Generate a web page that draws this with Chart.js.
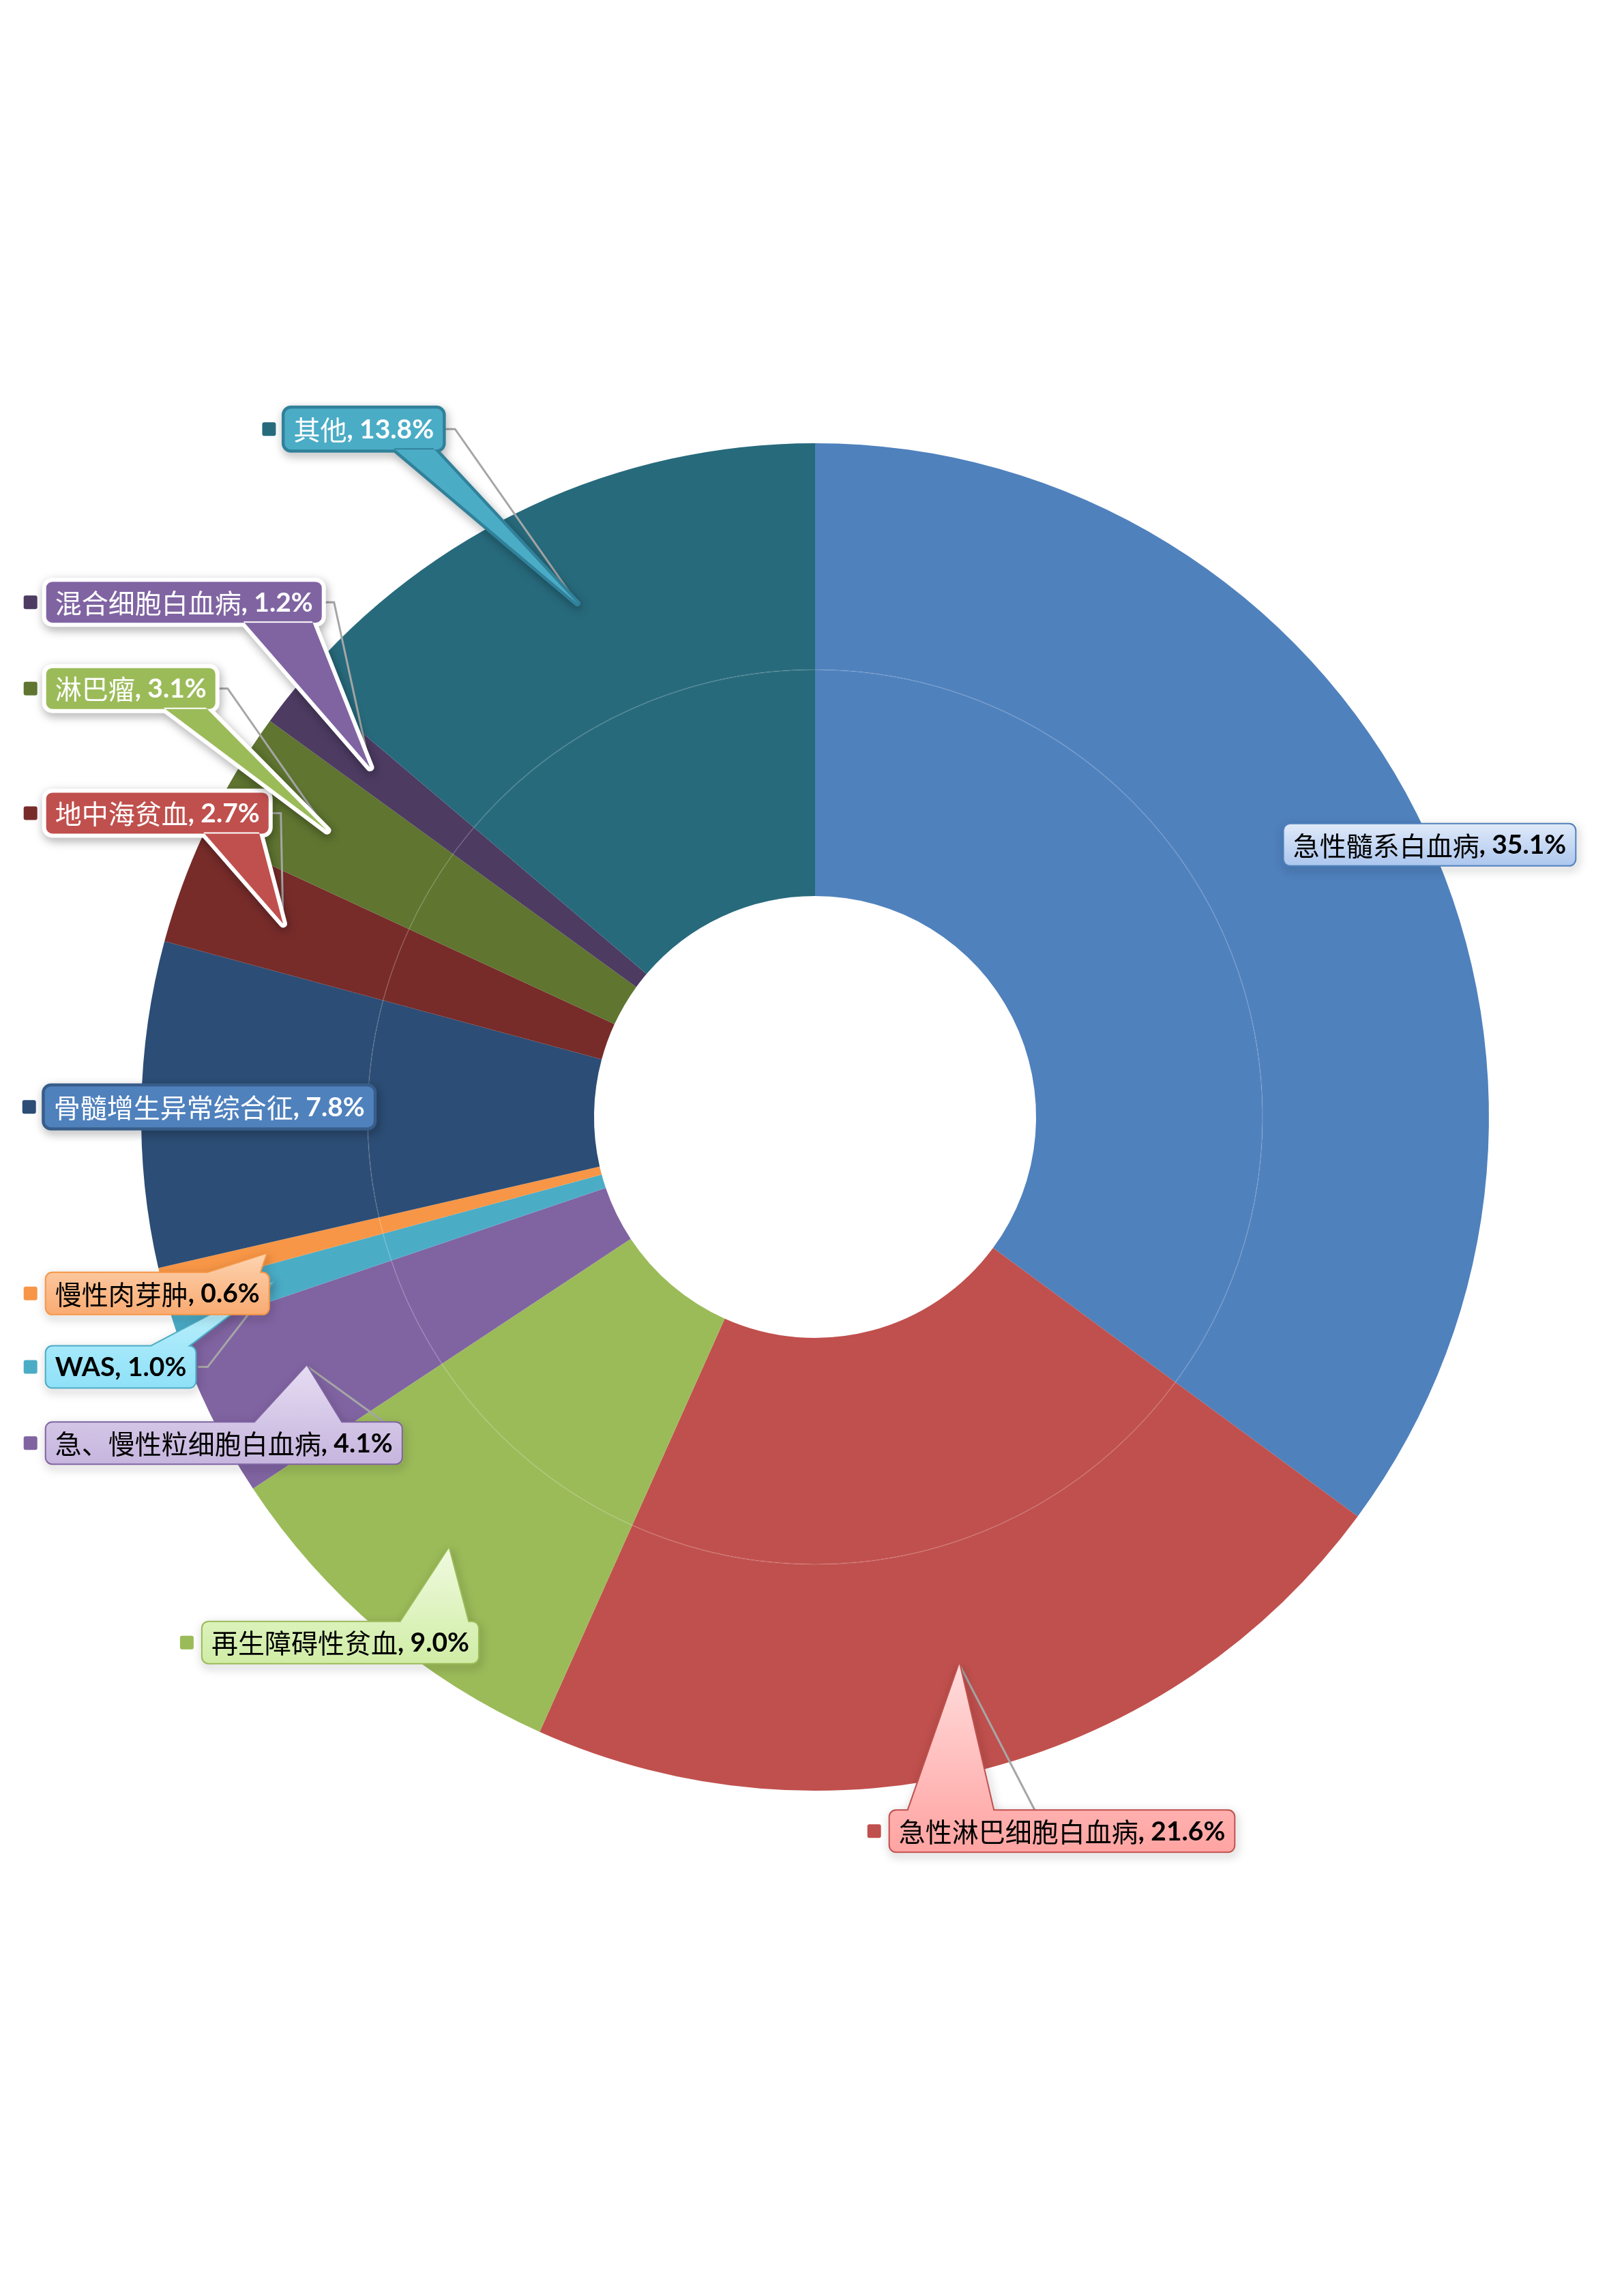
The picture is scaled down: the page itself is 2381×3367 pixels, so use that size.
<!DOCTYPE html>
<html>
<head>
<meta charset="utf-8">
<script src="https://cdn.jsdelivr.net/npm/chart.js@4.4.1/dist/chart.umd.min.js"></script>
<style>
  html, body { margin: 0; padding: 0; background: #ffffff; }
  canvas { display: block; }
</style>
</head>
<body>
<canvas id="donut" width="2381" height="3367"></canvas>
<script>
// ===== Data =====
const categories = [
  '急性髓系白血病',
  '急性淋巴细胞白血病',
  '再生障碍性贫血',
  '急、慢性粒细胞白血病',
  'WAS',
  '慢性肉芽肿',
  '骨髓增生异常综合征',
  '地中海贫血',
  '淋巴瘤',
  '混合细胞白血病',
  '其他',
];
const percents = [35.1, 21.6, 9.0, 4.1, 1.0, 0.6, 7.8, 2.7, 3.1, 1.2, 13.8];

// ===== Styles =====
const SLICE_COLORS = [
  '#4f81bd', '#c0504d', '#9bbb59', '#8064a2', '#4bacc6', '#f79646',
  '#2c4d75', '#772c2a', '#5f7530', '#4d3b62', '#276a7c',
];

// label callout looks: [fill top, fill bottom, border, border width, text colour]
const LABEL_STYLES = [
  ['#dfe9f9', '#adc7ee', '#4f81bd', 4, '#000000'],
  ['#ffdcdc', '#ffa4a2', '#c0504d', 4, '#000000'],
  ['#f0fadf', '#d0eda6', '#9bbb59', 4, '#000000'],
  ['#e6dcf2', '#c6b5de', '#8064a2', 4, '#000000'],
  ['#c8f3fd', '#8fe1f8', '#4bacc6', 4, '#000000'],
  ['#fdd3b0', '#f9ab72', '#f79646', 4, '#000000'],
  ['#4f81bd', '#4f81bd', '#385d8a', 9, '#ffffff'],
  ['#c0504d', '#c0504d', '#ffffff', 12, '#ffffff'],
  ['#9bbb59', '#9bbb59', '#ffffff', 12, '#ffffff'],
  ['#8064a2', '#8064a2', '#ffffff', 12, '#ffffff'],
  ['#4bacc6', '#4bacc6', '#31819a', 9, '#ffffff'],
];

// label box placement, relative to the doughnut centre in units of its outer radius:
// [left edge, vertical centre]
const LABEL_PLACES = [
  [0.696, -0.404],
  [0.111, 1.060],
  [-0.909, 0.780],
  [-1.141, 0.484],
  [-1.141, 0.371],
  [-1.141, 0.262],
  [-1.143, -0.015],
  [-1.141, -0.451],
  [-1.141, -0.636],
  [-1.141, -0.764],
  [-0.787, -1.021],
];

const FONT_SIZE = 39;
const BOX_H = 60;
const PAD_X = 13;
const TIP_RATIO = 0.84;
const LEADER_COLOR = '#a6a6a6';

function valueText(v) {
  return ', ' + v.toFixed(1) + '%';
}

// faint seam between the two rings
const seamPlugin = {
  id: 'ringSeam',
  afterDatasetsDraw(chart) {
    const inner = chart.getDatasetMeta(1).data[0];
    if (!inner) return;
    const ctx = chart.ctx;
    ctx.save();
    ctx.strokeStyle = 'rgba(255,255,255,0.10)';
    ctx.lineWidth = 2;
    ctx.beginPath();
    ctx.arc(inner.x, inner.y, inner.outerRadius, 0, Math.PI * 2);
    ctx.stroke();
    ctx.restore();
  },
};

// callout labels with pointers and leader lines
const calloutPlugin = {
  id: 'callouts',
  afterDraw(chart) {
    const ctx = chart.ctx;
    const arcs = chart.getDatasetMeta(0).data;
    const R = arcs[0].outerRadius;
    const cx = arcs[0].x;
    const cy = arcs[0].y;

    const boxes = arcs.map((arc, i) => {
      const mid = (arc.startAngle + arc.endAngle) / 2;
      const tip = {
        x: cx + Math.cos(mid) * R * TIP_RATIO,
        y: cy + Math.sin(mid) * R * TIP_RATIO,
      };
      const name = categories[i];
      const ascii = /^[\x00-\x7f]*$/.test(name);
      const nameFont = ascii
        ? `bold ${FONT_SIZE}px Lato, "Noto Sans CJK SC"`
        : `400 ${FONT_SIZE}px "Noto Sans CJK SC"`;
      const valFont = `bold ${FONT_SIZE}px Lato, "Noto Sans CJK SC"`;
      ctx.font = nameFont;
      const wName = ctx.measureText(name).width;
      ctx.font = valFont;
      const wVal = ctx.measureText(valueText(percents[i])).width;
      const w = wName + wVal + PAD_X * 2;
      const left = cx + LABEL_PLACES[i][0] * R;
      const top = cy + LABEL_PLACES[i][1] * R - BOX_H / 2;
      const inside = tip.x > left - 10 && tip.x < left + w + 10 &&
        tip.y > top - 10 && tip.y < top + BOX_H + 10;
      return { i, tip, left, top, w, h: BOX_H, nameFont, valFont, wName, inside };
    });

    // leader lines
    ctx.save();
    ctx.strokeStyle = LEADER_COLOR;
    ctx.lineWidth = 3;
    boxes.forEach((b) => {
      if (b.inside) return;
      ctx.beginPath();
      if (b.tip.x > b.left + b.w) {
        const y = b.top + b.h / 2;
        ctx.moveTo(b.left + b.w + 4, y);
        ctx.lineTo(b.left + b.w + 18, y);
      } else {
        const x = Math.min(b.left + b.w - 20, b.tip.x + b.w * 0.22);
        const y = b.tip.y < b.top ? b.top : b.top + b.h;
        ctx.moveTo(x, y);
      }
      ctx.lineTo(b.tip.x, b.tip.y);
      ctx.stroke();
    });
    ctx.restore();

    // callout boxes
    boxes.forEach((b) => {
      const [fTop, fBot, border, bw, textColor] = LABEL_STYLES[b.i];
      const right = b.left + b.w;
      const bottom = b.top + b.h;

      let pointer = null;
      if (!b.inside) {
        const baseW = Math.max(46, b.w * 0.25);
        let x0 = b.tip.x - baseW * 0.6;
        x0 = Math.max(b.left + 14, Math.min(right - 14 - baseW, x0));
        const edgeY = b.tip.y < b.top ? b.top + 2 : bottom - 2;
        pointer = [[x0, edgeY], [x0 + baseW, edgeY], [b.tip.x, b.tip.y]];
      }

      const y0 = Math.min(b.top, b.tip.y);
      const y1 = Math.max(bottom, b.tip.y);
      const grad = ctx.createLinearGradient(0, y0, 0, y1);
      grad.addColorStop(0, fTop);
      grad.addColorStop(1, fBot);

      const outline = () => {
        ctx.beginPath();
        ctx.roundRect(b.left, b.top, b.w, b.h, 9);
        if (pointer) {
          ctx.moveTo(pointer[0][0], pointer[0][1]);
          ctx.lineTo(pointer[2][0], pointer[2][1]);
          ctx.lineTo(pointer[1][0], pointer[1][1]);
          ctx.closePath();
        }
      };

      ctx.save();
      ctx.lineJoin = 'round';
      ctx.shadowColor = 'rgba(0,0,0,0.35)';
      ctx.shadowBlur = 14;
      ctx.shadowOffsetX = 2;
      ctx.shadowOffsetY = 5;
      ctx.strokeStyle = border;
      ctx.lineWidth = bw;
      outline();
      ctx.stroke();
      ctx.restore();

      ctx.save();
      ctx.fillStyle = grad;
      outline();
      ctx.fill('nonzero');
      ctx.restore();

      // legend key
      ctx.save();
      ctx.fillStyle = SLICE_COLORS[b.i];
      ctx.beginPath();
      ctx.roundRect(b.left - 33, b.top + b.h / 2 - 10, 20, 20, 3);
      ctx.fill();
      ctx.restore();

      // text
      ctx.save();
      ctx.fillStyle = textColor;
      ctx.textBaseline = 'middle';
      ctx.textAlign = 'left';
      const ty = b.top + b.h / 2 + 1;
      ctx.font = b.nameFont;
      ctx.fillText(categories[b.i], b.left + PAD_X, ty);
      ctx.font = b.valFont;
      ctx.fillText(valueText(percents[b.i]), b.left + PAD_X + b.wName, ty);
      ctx.restore();
    });
  },
};

const donutCtx = document.getElementById('donut').getContext('2d');
const donutChart = new Chart(donutCtx, {
  type: 'doughnut',
  data: {
    labels: categories,
    datasets: [
      {
        data: percents,
        backgroundColor: SLICE_COLORS,
        borderWidth: 0,
        hoverOffset: 0,
      },
      {
        data: percents,
        backgroundColor: SLICE_COLORS,
        borderWidth: 0,
        hoverOffset: 0,
      },
    ],
  },
  options: {
    responsive: false,
    animation: false,
    devicePixelRatio: 1,
    events: [],
    cutout: '32.8%',
    layout: {
      padding: { left: 207, right: 198, top: 650, bottom: 741 },
    },
    plugins: {
      legend: { display: false },
      tooltip: { enabled: false },
    },
  },
  plugins: [seamPlugin, calloutPlugin],
});
</script>
</body>
</html>
